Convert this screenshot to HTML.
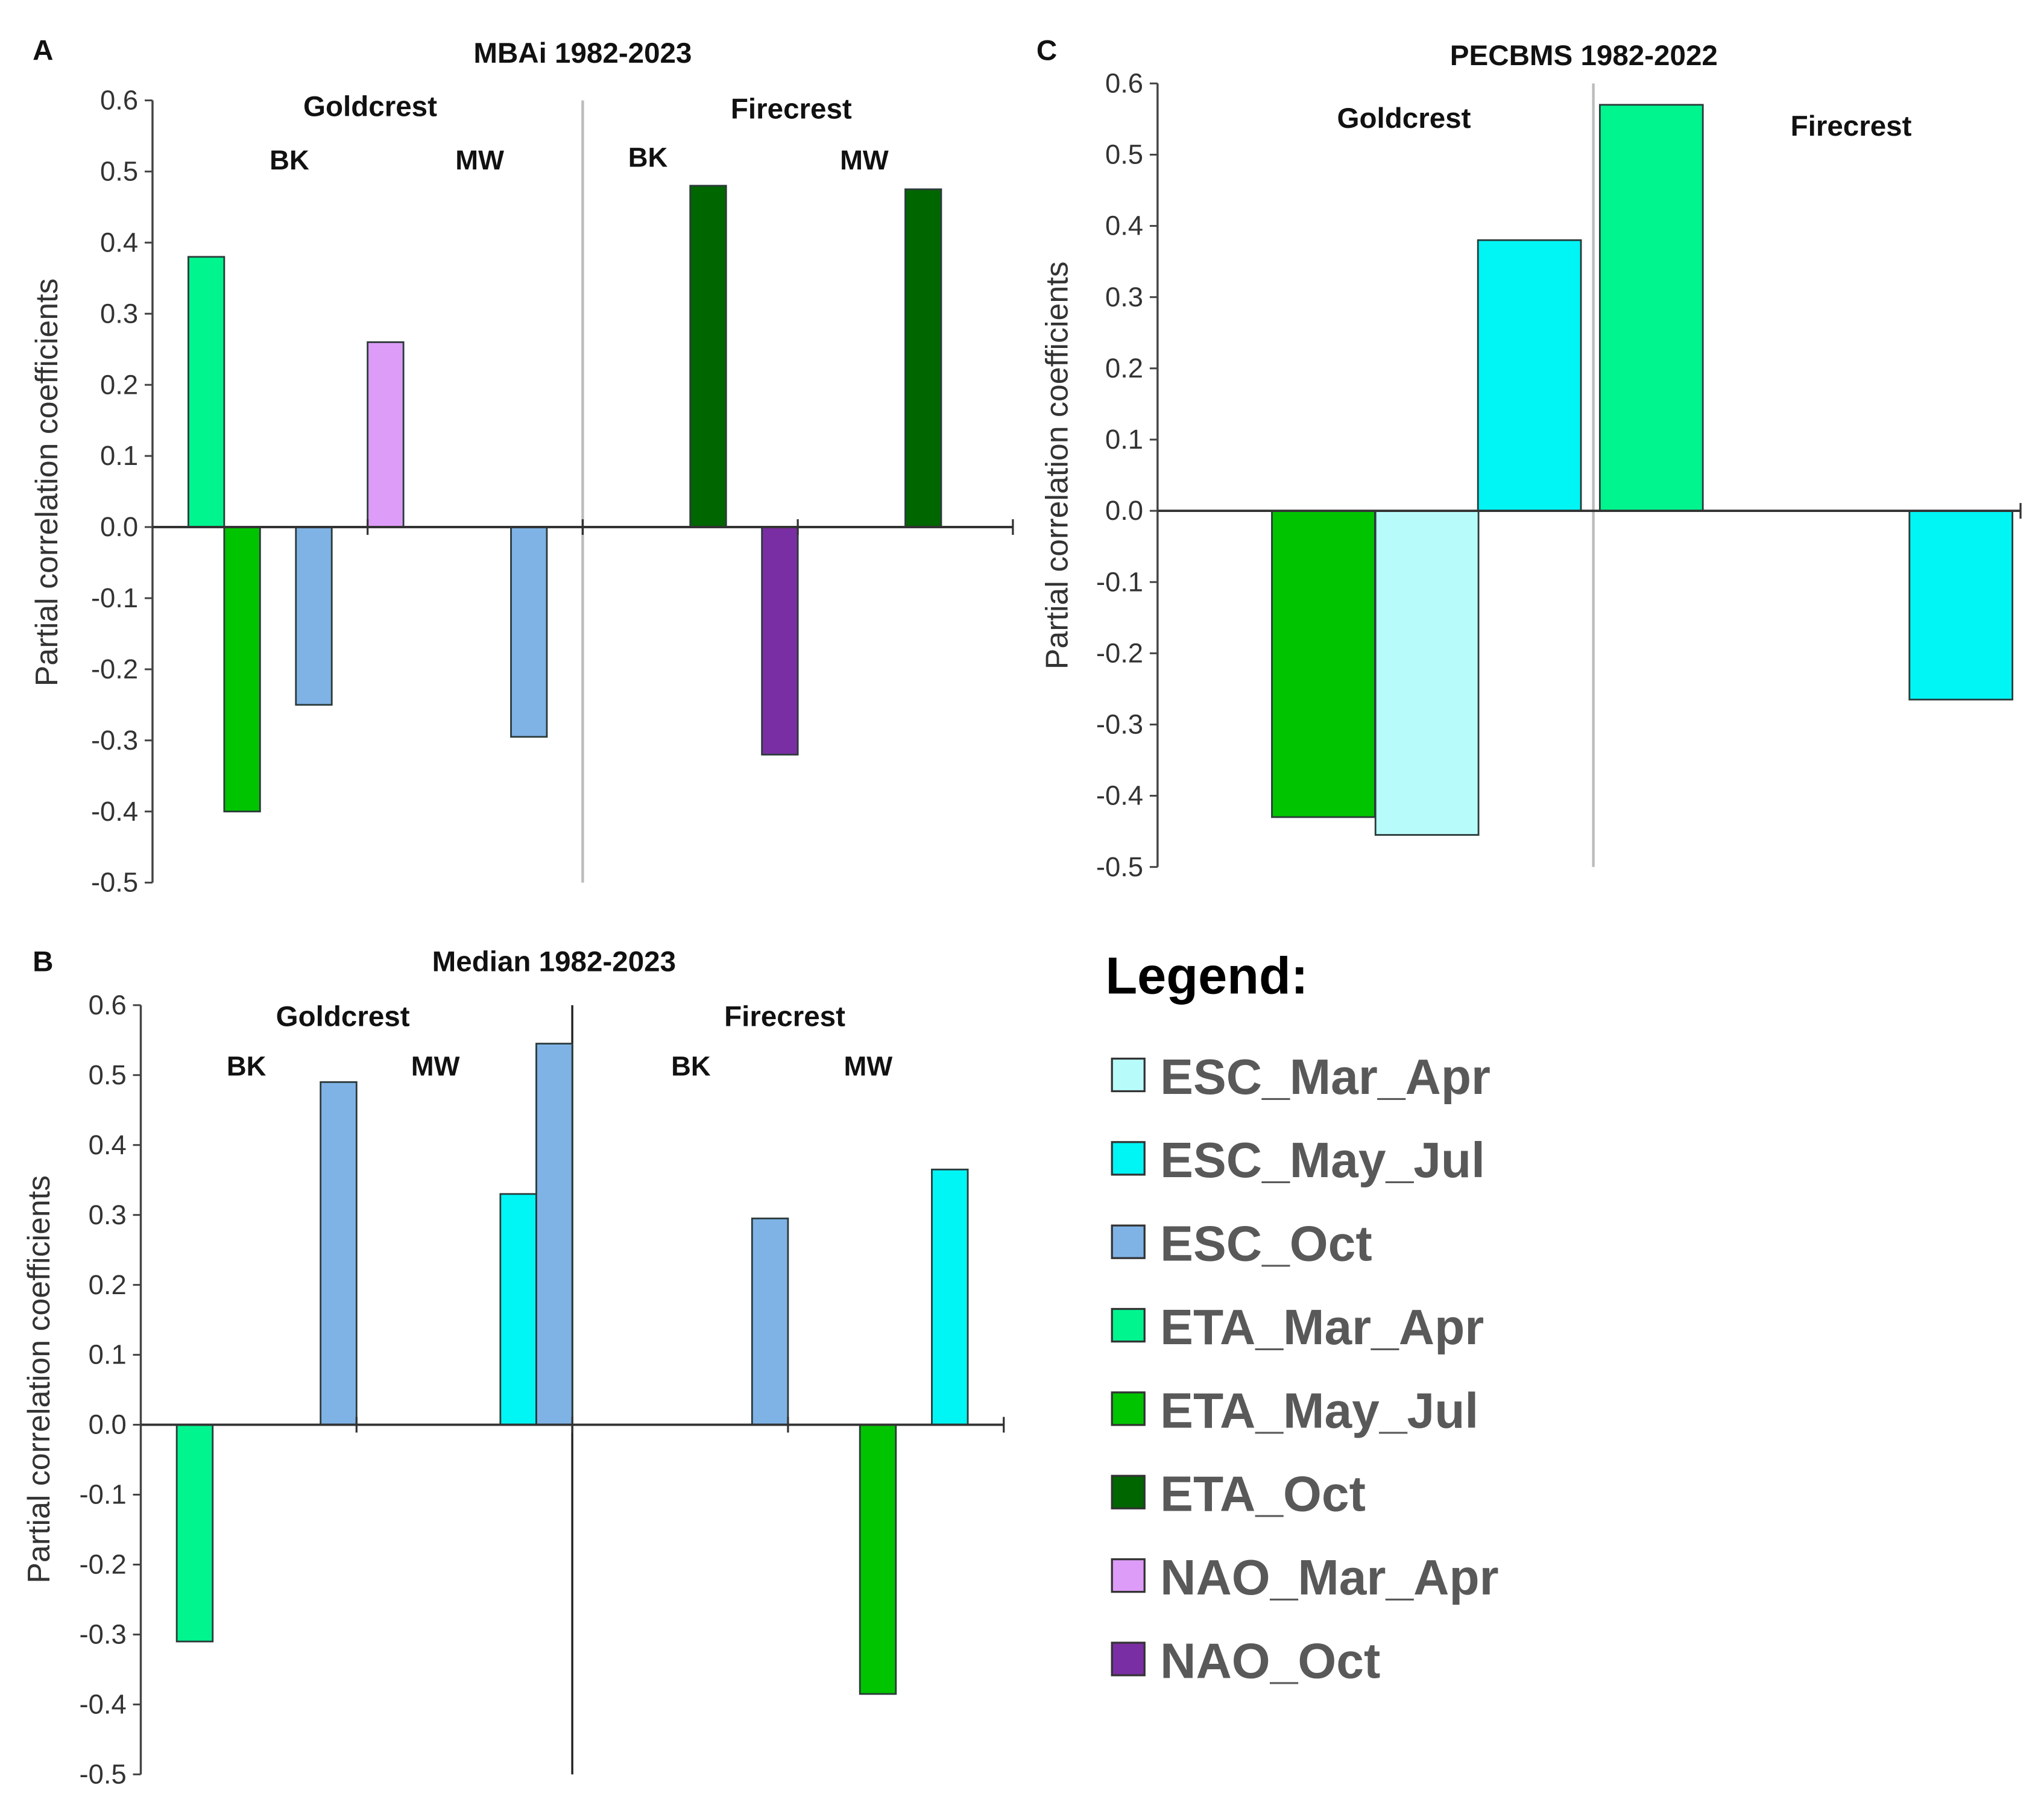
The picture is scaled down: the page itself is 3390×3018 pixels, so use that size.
<!DOCTYPE html>
<html><head><meta charset="utf-8"><style>
html,body{margin:0;padding:0;background:#fff;}
svg{display:block;}
text{font-family:"Liberation Sans",sans-serif;}
</style></head><body>
<svg id="fig" xmlns="http://www.w3.org/2000/svg" width="3390" height="3018" viewBox="0 0 1568 1396" preserveAspectRatio="none">
<rect width="1568" height="1396" fill="#fff"/>
</svg>
<script>
const colors={ESC_Mar_Apr:"#b8fbfb",ESC_May_Jul:"#00f5f5",ESC_Oct:"#7fb3e6",ETA_Mar_Apr:"#00f58f",ETA_May_Jul:"#00c400",ETA_Oct:"#006600",NAO_Mar_Apr:"#dd9cf7",NAO_Oct:"#7a2ea3"};
const legendNames=["ESC_Mar_Apr","ESC_May_Jul","ESC_Oct","ETA_Mar_Apr","ETA_May_Jul","ETA_Oct","NAO_Mar_Apr","NAO_Oct"];
const yTicks=[0.6,0.5,0.4,0.3,0.2,0.1,0.0,-0.1,-0.2,-0.3,-0.4,-0.5];
// Panel A (MBAi)
const aSlots=[1,2,4,6,10,15,17,21];
const aSeries=["ETA_Mar_Apr","ETA_May_Jul","ESC_Oct","NAO_Mar_Apr","ESC_Oct","ETA_Oct","NAO_Oct","ETA_Oct"];
const aValues=[0.38,-0.40,-0.25,0.26,-0.295,0.48,-0.32,0.475];
// Panel B (Median)
const bSlots=[1,5,10,11,17,20,22];
const bSeries=["ETA_Mar_Apr","ESC_Oct","ESC_May_Jul","ESC_Oct","ESC_Oct","ETA_May_Jul","ESC_May_Jul"];
const bValues=[-0.31,0.49,0.33,0.545,0.295,-0.385,0.365];
// Panel C (PECBMS)
const cSlots=[1.06,2.02,2.97,4.1,6.97];
const cSeries=["ETA_May_Jul","ESC_Mar_Apr","ESC_May_Jul","ETA_Mar_Apr","ESC_May_Jul"];
const cValues=[-0.43,-0.455,0.38,0.57,-0.265];

const svg=document.getElementById('fig');
const NS="http://www.w3.org/2000/svg";
function mk(tag,attrs,parent){const e=document.createElementNS(NS,tag);for(const k in attrs)e.setAttribute(k,attrs[k]);(parent||svg).appendChild(e);return e;}
function txt(s,x,y,size,opts,parent){const t=mk('text',Object.assign({x:x,y:y,'font-size':size},opts||{}),parent);t.textContent=s;return t;}

function panel(p){
  const g=mk('g',{});
  
  
  const yScale=v=>p.y0+(0.6-v)/1.1*(p.y1-p.y0);
  const xScale=s=>p.x0+s*(p.x1-p.x0)/p.nSlots;
  const zero=yScale(0);
  const d=mk('line',{x1:xScale(p.divSlot),x2:xScale(p.divSlot),y1:p.y0,y2:p.y1,stroke:p.divColor,'stroke-width':p.divW},g);
  
  
  p.slots.forEach((s,i)=>{
    const v=p.values[i];
    const x=xScale(s), w=(p.x1-p.x0)/p.nSlots*p.barFrac;
    const y=Math.min(yScale(v),zero), h=Math.abs(yScale(v)-zero);
    const r=mk('rect',{x:x,y:y,width:w,height:h,fill:colors[p.series[i]],stroke:'#2b3a3a','stroke-width':1.3},g);
    
    
  });
  const ya=mk('line',{x1:p.x0,x2:p.x0,y1:p.y0,y2:p.y1,stroke:'#444','stroke-width':1.6},g);
  
  
  yTicks.forEach(v=>{
    const y=yScale(v);
    mk('line',{x1:p.x0-6,x2:p.x0,y1:y,y2:y,stroke:'#444','stroke-width':1.4},g);
    const t=txt(v.toFixed(1),p.x0-11,y+7,21,{'text-anchor':'end',fill:'#333'},g);
    
    
  });
  const xa=mk('line',{x1:p.x0,x2:p.x1,y1:zero,y2:zero,stroke:'#333','stroke-width':1.8},g);
  
  
  p.xTicks.forEach(s=>{mk('line',{x1:xScale(s),x2:xScale(s),y1:zero-6,y2:zero+6,stroke:'#333','stroke-width':1.5},g);});
  const yt=txt('Partial correlation coefficients',0,0,24,{'text-anchor':'middle',fill:'#333',transform:`translate(${p.ylx},${p.ymid})  rotate(-90)`},g);
  
  
  p.labels.forEach(l=>{
    const t=txt(l[0],l[1],l[2],l[3],{'text-anchor':l[4]||'middle','font-weight':'bold',fill:'#111'},g);
    
    
  });
}

panel({name:'panel-a',x0:117,x1:777,y0:77,y1:677,nSlots:24,barFrac:1,slots:aSlots,series:aSeries,values:aValues,divSlot:12,divColor:'#bbb',divW:2,xTicks:[6,12,18,24],ylx:44,ymid:370,
 labels:[['A',33,46,22,'middle','panel-letter'],['MBAi 1982-2023',447,48,22,'middle','chart-title'],['Goldcrest',284,89,22,'middle','group-label'],['BK',222,130,21,'middle','site-label'],['MW',368,130,21,'middle','site-label'],['Firecrest',607,91,22,'middle','group-label'],['BK',497,128,21,'middle','site-label'],['MW',663,130,21,'middle','site-label']]});
panel({name:'panel-b',x0:108,x1:770,y0:771,y1:1361,nSlots:24,barFrac:1,slots:bSlots,series:bSeries,values:bValues,divSlot:12,divColor:'#222',divW:1.6,xTicks:[6,12,18,24],ylx:38,ymid:1058,
 labels:[['B',33,745,22,'middle','panel-letter'],['Median 1982-2023',425,745,22,'middle','chart-title'],['Goldcrest',263,787,22,'middle','group-label'],['BK',189,825,21,'middle','site-label'],['MW',334,825,21,'middle','site-label'],['Firecrest',602,787,22,'middle','group-label'],['BK',530,825,21,'middle','site-label'],['MW',666,825,21,'middle','site-label']]});
panel({name:'panel-c',x0:888,x1:1550,y0:64,y1:665,nSlots:8,barFrac:0.955,slots:cSlots,series:cSeries,values:cValues,divSlot:4.04,divColor:'#bbb',divW:2,xTicks:[8],ylx:819,ymid:357,
 labels:[['C',803,46,22,'middle','panel-letter'],['PECBMS 1982-2022',1215,50,22,'middle','chart-title'],['Goldcrest',1077,98,22,'middle','group-label'],['Firecrest',1420,104,22,'middle','group-label']]});

const lg=mk('g',{});


const lt=txt('Legend:',848,762,40,{'font-weight':'bold',fill:'#000'},lg);


legendNames.forEach((n,i)=>{
  const y=812+i*64;
  const r=mk('rect',{x:853,y:y,width:25,height:25,fill:colors[n],stroke:'#333','stroke-width':1.5},lg);
  
  
  const t=txt(n,890,y+27,38,{'font-weight':'bold',fill:'#595959'},lg);
  
  
});
</script>
</body></html>
